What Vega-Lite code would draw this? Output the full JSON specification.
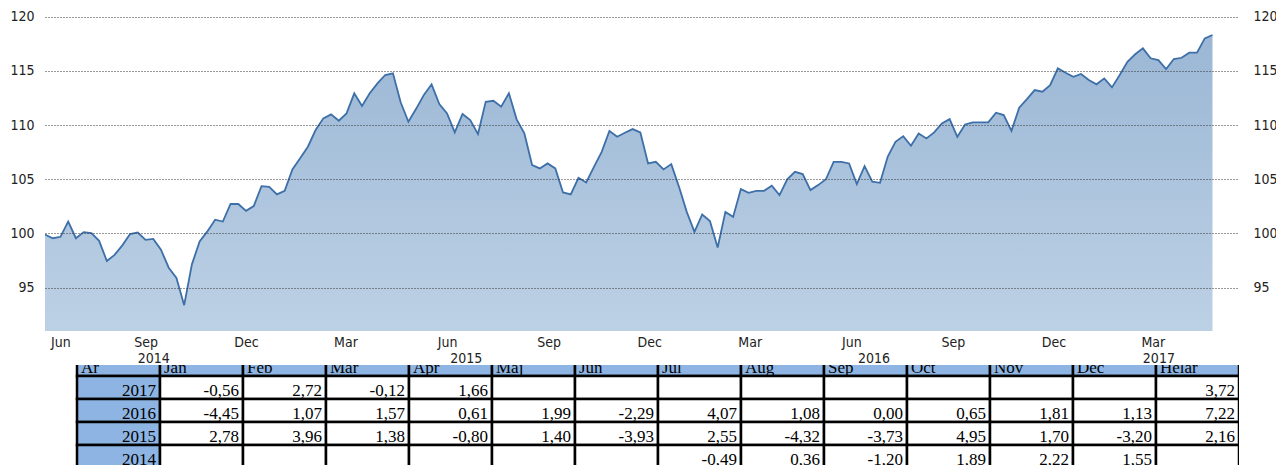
{
  "$schema": "https://vega.github.io/schema/vega-lite/v6.json",
  "padding": {"left": 9, "top": 0, "right": 0, "bottom": 0},
  "spacing": 0,
  "background": "white",
  "config": {
    "view": {"stroke": null},
    "locale": {"number": {"decimal": ",", "thousands": "\u00a0", "grouping": [3], "currency": ["", ""], "minus": "-"}},
    "axis": {"labelFont": "DejaVu Sans Condensed", "labelFontSize": 14, "labelColor": "#222", "domain": false, "ticks": false, "title": null}
  },
  "datasets": {
    "idx": [
      {"d": "2014-06-02", "v": 99.9}, {"d": "2014-06-09", "v": 99.56}, {"d": "2014-06-16", "v": 99.69}, {"d": "2014-06-23", "v": 101.1},
      {"d": "2014-06-30", "v": 99.56}, {"d": "2014-07-07", "v": 100.12}, {"d": "2014-07-14", "v": 100.03}, {"d": "2014-07-21", "v": 99.32},
      {"d": "2014-07-28", "v": 97.46}, {"d": "2014-08-04", "v": 98.02}, {"d": "2014-08-11", "v": 98.9}, {"d": "2014-08-18", "v": 99.94},
      {"d": "2014-08-25", "v": 100.09}, {"d": "2014-09-01", "v": 99.41}, {"d": "2014-09-08", "v": 99.5}, {"d": "2014-09-15", "v": 98.5},
      {"d": "2014-09-22", "v": 96.84}, {"d": "2014-09-29", "v": 95.9}, {"d": "2014-10-06", "v": 93.38}, {"d": "2014-10-13", "v": 97.15},
      {"d": "2014-10-20", "v": 99.26}, {"d": "2014-10-27", "v": 100.19}, {"d": "2014-11-03", "v": 101.27}, {"d": "2014-11-10", "v": 101.1},
      {"d": "2014-11-17", "v": 102.72}, {"d": "2014-11-24", "v": 102.72}, {"d": "2014-12-01", "v": 102.09}, {"d": "2014-12-08", "v": 102.52},
      {"d": "2014-12-15", "v": 104.37}, {"d": "2014-12-22", "v": 104.3}, {"d": "2014-12-29", "v": 103.6}, {"d": "2015-01-05", "v": 103.93},
      {"d": "2015-01-12", "v": 105.9}, {"d": "2015-01-19", "v": 106.93}, {"d": "2015-01-26", "v": 108.0}, {"d": "2015-02-02", "v": 109.54},
      {"d": "2015-02-09", "v": 110.62}, {"d": "2015-02-16", "v": 110.99}, {"d": "2015-02-23", "v": 110.4}, {"d": "2015-03-02", "v": 111.08},
      {"d": "2015-03-09", "v": 112.93}, {"d": "2015-03-16", "v": 111.76}, {"d": "2015-03-23", "v": 112.93}, {"d": "2015-03-30", "v": 113.85},
      {"d": "2015-04-06", "v": 114.62}, {"d": "2015-04-13", "v": 114.77}, {"d": "2015-04-20", "v": 112.1}, {"d": "2015-04-27", "v": 110.3},
      {"d": "2015-05-04", "v": 111.5}, {"d": "2015-05-11", "v": 112.77}, {"d": "2015-05-18", "v": 113.76}, {"d": "2015-05-25", "v": 111.94},
      {"d": "2015-06-01", "v": 111.08}, {"d": "2015-06-08", "v": 109.32}, {"d": "2015-06-15", "v": 111.02}, {"d": "2015-06-22", "v": 110.46},
      {"d": "2015-06-29", "v": 109.17}, {"d": "2015-07-06", "v": 112.15}, {"d": "2015-07-13", "v": 112.24}, {"d": "2015-07-20", "v": 111.69},
      {"d": "2015-07-27", "v": 112.93}, {"d": "2015-08-03", "v": 110.53}, {"d": "2015-08-10", "v": 109.23}, {"d": "2015-08-17", "v": 106.31},
      {"d": "2015-08-24", "v": 106.0}, {"d": "2015-08-31", "v": 106.46}, {"d": "2015-09-07", "v": 106.0}, {"d": "2015-09-14", "v": 103.78},
      {"d": "2015-09-21", "v": 103.6}, {"d": "2015-09-28", "v": 105.14}, {"d": "2015-10-05", "v": 104.71}, {"d": "2015-10-12", "v": 106.15},
      {"d": "2015-10-19", "v": 107.53}, {"d": "2015-10-26", "v": 109.45}, {"d": "2015-11-02", "v": 108.92}, {"d": "2015-11-09", "v": 109.29},
      {"d": "2015-11-16", "v": 109.63}, {"d": "2015-11-23", "v": 109.32}, {"d": "2015-11-30", "v": 106.46}, {"d": "2015-12-07", "v": 106.61},
      {"d": "2015-12-14", "v": 105.91}, {"d": "2015-12-21", "v": 106.4}, {"d": "2015-12-28", "v": 104.3}, {"d": "2016-01-04", "v": 101.99},
      {"d": "2016-01-11", "v": 100.15}, {"d": "2016-01-18", "v": 101.75}, {"d": "2016-01-25", "v": 101.14}, {"d": "2016-02-01", "v": 98.71},
      {"d": "2016-02-08", "v": 101.99}, {"d": "2016-02-15", "v": 101.53}, {"d": "2016-02-22", "v": 104.09}, {"d": "2016-02-29", "v": 103.75},
      {"d": "2016-03-07", "v": 103.93}, {"d": "2016-03-14", "v": 103.93}, {"d": "2016-03-21", "v": 104.4}, {"d": "2016-03-28", "v": 103.54},
      {"d": "2016-04-04", "v": 104.99}, {"d": "2016-04-11", "v": 105.69}, {"d": "2016-04-18", "v": 105.48}, {"d": "2016-04-25", "v": 104.0},
      {"d": "2016-05-02", "v": 104.46}, {"d": "2016-05-09", "v": 105.0}, {"d": "2016-05-16", "v": 106.61}, {"d": "2016-05-23", "v": 106.61},
      {"d": "2016-05-30", "v": 106.46}, {"d": "2016-06-06", "v": 104.55}, {"d": "2016-06-13", "v": 106.21}, {"d": "2016-06-20", "v": 104.77},
      {"d": "2016-06-27", "v": 104.67}, {"d": "2016-07-04", "v": 107.1}, {"d": "2016-07-11", "v": 108.46}, {"d": "2016-07-18", "v": 108.98},
      {"d": "2016-07-25", "v": 108.09}, {"d": "2016-08-01", "v": 109.23}, {"d": "2016-08-08", "v": 108.77}, {"d": "2016-08-15", "v": 109.32},
      {"d": "2016-08-22", "v": 110.15}, {"d": "2016-08-29", "v": 110.55}, {"d": "2016-09-05", "v": 108.92}, {"d": "2016-09-12", "v": 110.06},
      {"d": "2016-09-19", "v": 110.25}, {"d": "2016-09-26", "v": 110.25}, {"d": "2016-10-03", "v": 110.25}, {"d": "2016-10-10", "v": 111.14},
      {"d": "2016-10-17", "v": 110.92}, {"d": "2016-10-24", "v": 109.47}, {"d": "2016-10-31", "v": 111.6}, {"d": "2016-11-07", "v": 112.4},
      {"d": "2016-11-14", "v": 113.23}, {"d": "2016-11-21", "v": 113.08}, {"d": "2016-11-28", "v": 113.69}, {"d": "2016-12-05", "v": 115.24},
      {"d": "2016-12-12", "v": 114.83}, {"d": "2016-12-19", "v": 114.46}, {"d": "2016-12-26", "v": 114.71}, {"d": "2017-01-02", "v": 114.16},
      {"d": "2017-01-09", "v": 113.76}, {"d": "2017-01-16", "v": 114.31}, {"d": "2017-01-23", "v": 113.48}, {"d": "2017-01-30", "v": 114.62},
      {"d": "2017-02-06", "v": 115.84}, {"d": "2017-02-13", "v": 116.53}, {"d": "2017-02-20", "v": 117.08}, {"d": "2017-02-27", "v": 116.16},
      {"d": "2017-03-06", "v": 116.0}, {"d": "2017-03-13", "v": 115.17}, {"d": "2017-03-20", "v": 116.09}, {"d": "2017-03-27", "v": 116.21},
      {"d": "2017-04-03", "v": 116.68}, {"d": "2017-04-10", "v": 116.68}, {"d": "2017-04-17", "v": 118.0}, {"d": "2017-04-24", "v": 118.31}
    ],
    "tbl": [
      {"r": "År", "c": "År"}, {"r": "År", "c": "Jan"}, {"r": "År", "c": "Feb"}, {"r": "År", "c": "Mar"}, {"r": "År", "c": "Apr"}, {"r": "År", "c": "Maj"}, {"r": "År", "c": "Jun"},
      {"r": "År", "c": "Jul"}, {"r": "År", "c": "Aug"}, {"r": "År", "c": "Sep"}, {"r": "År", "c": "Oct"}, {"r": "År", "c": "Nov"}, {"r": "År", "c": "Dec"}, {"r": "År", "c": "Helår"},
      {"r": "2017", "c": "År"}, {"r": "2017", "c": "Jan", "v": -0.56}, {"r": "2017", "c": "Feb", "v": 2.72}, {"r": "2017", "c": "Mar", "v": -0.12}, {"r": "2017", "c": "Apr", "v": 1.66},
      {"r": "2017", "c": "Maj"}, {"r": "2017", "c": "Jun"}, {"r": "2017", "c": "Jul"}, {"r": "2017", "c": "Aug"}, {"r": "2017", "c": "Sep"}, {"r": "2017", "c": "Oct"},
      {"r": "2017", "c": "Nov"}, {"r": "2017", "c": "Dec"}, {"r": "2017", "c": "Helår", "v": 3.72},
      {"r": "2016", "c": "År"}, {"r": "2016", "c": "Jan", "v": -4.45}, {"r": "2016", "c": "Feb", "v": 1.07}, {"r": "2016", "c": "Mar", "v": 1.57}, {"r": "2016", "c": "Apr", "v": 0.61},
      {"r": "2016", "c": "Maj", "v": 1.99}, {"r": "2016", "c": "Jun", "v": -2.29}, {"r": "2016", "c": "Jul", "v": 4.07}, {"r": "2016", "c": "Aug", "v": 1.08}, {"r": "2016", "c": "Sep", "v": 0.0},
      {"r": "2016", "c": "Oct", "v": 0.65}, {"r": "2016", "c": "Nov", "v": 1.81}, {"r": "2016", "c": "Dec", "v": 1.13}, {"r": "2016", "c": "Helår", "v": 7.22},
      {"r": "2015", "c": "År"}, {"r": "2015", "c": "Jan", "v": 2.78}, {"r": "2015", "c": "Feb", "v": 3.96}, {"r": "2015", "c": "Mar", "v": 1.38}, {"r": "2015", "c": "Apr", "v": -0.8},
      {"r": "2015", "c": "Maj", "v": 1.4}, {"r": "2015", "c": "Jun", "v": -3.93}, {"r": "2015", "c": "Jul", "v": 2.55}, {"r": "2015", "c": "Aug", "v": -4.32}, {"r": "2015", "c": "Sep", "v": -3.73},
      {"r": "2015", "c": "Oct", "v": 4.95}, {"r": "2015", "c": "Nov", "v": 1.7}, {"r": "2015", "c": "Dec", "v": -3.2}, {"r": "2015", "c": "Helår", "v": 2.16},
      {"r": "2014", "c": "År"}, {"r": "2014", "c": "Jan"}, {"r": "2014", "c": "Feb"}, {"r": "2014", "c": "Mar"}, {"r": "2014", "c": "Apr"}, {"r": "2014", "c": "Maj"}, {"r": "2014", "c": "Jun"},
      {"r": "2014", "c": "Jul", "v": -0.49}, {"r": "2014", "c": "Aug", "v": 0.36}, {"r": "2014", "c": "Sep", "v": -1.2}, {"r": "2014", "c": "Oct", "v": 1.89},
      {"r": "2014", "c": "Nov", "v": 2.22}, {"r": "2014", "c": "Dec", "v": 1.55}, {"r": "2014", "c": "Helår"}
    ]
  },
  "vconcat": [
    {
      "width": 1194,
      "height": 331,
      "data": {"name": "idx"},
      "layer": [
        {
          "mark": {"type": "area", "clip": true, "fill": {"gradient": "linear", "x1": 0, "y1": 0, "x2": 0, "y2": 1, "stops": [{"offset": 0, "color": "#9BB7D5"}, {"offset": 1, "color": "#BDD1E5"}]}},
          "encoding": {
            "x": {"field": "d", "type": "temporal",
              "scale": {"type": "utc", "domain": [{"year": 2014, "month": 6, "date": 2, "utc": true}, {"year": 2017, "month": 5, "date": 18, "utc": true}]},
              "axis": {"orient": "bottom", "labelExpr": "utcFormat(datum.value, '%b')", "grid": false, "labelPadding": 4,
                "values": [{"year": 2014, "month": 6, "date": 16, "utc": true}, {"year": 2014, "month": 9, "date": 1, "utc": true}, {"year": 2014, "month": 12, "date": 1, "utc": true},
                  {"year": 2015, "month": 3, "date": 1, "utc": true}, {"year": 2015, "month": 6, "date": 1, "utc": true}, {"year": 2015, "month": 9, "date": 1, "utc": true}, {"year": 2015, "month": 12, "date": 1, "utc": true},
                  {"year": 2016, "month": 3, "date": 1, "utc": true}, {"year": 2016, "month": 6, "date": 1, "utc": true}, {"year": 2016, "month": 9, "date": 1, "utc": true}, {"year": 2016, "month": 12, "date": 1, "utc": true},
                  {"year": 2017, "month": 3, "date": 1, "utc": true}]}},
            "y": {"field": "v", "type": "quantitative", "scale": {"domain": [91, 121.54], "zero": false, "nice": false},
              "axis": {"orient": "left", "values": [95, 100, 105, 110, 115, 120], "grid": true, "gridDash": [1, 2], "gridColor": "#333", "gridWidth": 1, "labelPadding": 11, "zindex": 1}},
            "y2": {"datum": 91}
          }
        },
        {
          "mark": {"type": "line", "stroke": "#3D6FA8", "strokeWidth": 1.8, "clip": true},
          "encoding": {
            "x": {"field": "d", "type": "temporal",
              "axis": {"orient": "bottom", "labelExpr": "utcFormat(datum.value, '%Y')", "grid": false, "labelPadding": 20,
                "values": [{"year": 2014, "month": 9, "date": 8, "utc": true}, {"year": 2015, "month": 6, "date": 18, "utc": true}, {"year": 2016, "month": 6, "date": 21, "utc": true}, {"year": 2017, "month": 3, "date": 6, "utc": true}]}},
            "y": {"field": "v", "type": "quantitative",
              "axis": {"orient": "right", "values": [95, 100, 105, 110, 115, 120], "grid": false, "labelPadding": 14}}
          }
        }
      ],
      "resolve": {"axis": {"x": "independent", "y": "independent"}}
    },
    {
      "width": 1194,
      "height": 100,
      "data": {"name": "tbl"},
      "layer": [
        {
          "mark": {"type": "rect", "stroke": "#000", "strokeWidth": 2.5, "clip": true},
          "encoding": {
            "x": {"field": "c", "type": "ordinal", "axis": null,
              "scale": {"domain": ["År", "Jan", "Feb", "Mar", "Apr", "Maj", "Jun", "Jul", "Aug", "Sep", "Oct", "Nov", "Dec", "Helår"], "range": [32, 1194], "paddingInner": 0, "paddingOuter": 0}},
            "y": {"field": "r", "type": "ordinal", "axis": null,
              "scale": {"domain": ["År", "2017", "2016", "2015", "2014"], "range": [-12, 103], "paddingInner": 0, "paddingOuter": 0}},
            "fill": {"condition": {"test": "datum.r === 'År' || datum.c === 'År'", "value": "#8DB4E2"}, "value": "#FFFFFF"}
          }
        },
        {
          "transform": [{"filter": "datum.r === 'År'"}],
          "mark": {"type": "text", "align": "left", "baseline": "alphabetic", "dx": 4, "dy": -3, "font": "Liberation Serif", "fontSize": 17, "color": "#000", "clip": true},
          "encoding": {
            "x": {"field": "c", "type": "ordinal", "bandPosition": 0, "axis": null},
            "y": {"field": "r", "type": "ordinal", "bandPosition": 1, "axis": null},
            "text": {"field": "c"}
          }
        },
        {
          "transform": [{"filter": "datum.c === 'År' && datum.r !== 'År'"}],
          "mark": {"type": "text", "align": "right", "baseline": "alphabetic", "dx": -4, "dy": -3, "font": "Liberation Serif", "fontSize": 17, "color": "#000", "clip": true},
          "encoding": {
            "x": {"field": "c", "type": "ordinal", "bandPosition": 1, "axis": null},
            "y": {"field": "r", "type": "ordinal", "bandPosition": 1, "axis": null},
            "text": {"field": "r"}
          }
        },
        {
          "transform": [{"filter": "isValid(datum.v)"}],
          "mark": {"type": "text", "align": "right", "baseline": "alphabetic", "dx": -4, "dy": -3, "font": "Liberation Serif", "fontSize": 17, "color": "#000", "clip": true},
          "encoding": {
            "x": {"field": "c", "type": "ordinal", "bandPosition": 1, "axis": null},
            "y": {"field": "r", "type": "ordinal", "bandPosition": 1, "axis": null},
            "text": {"field": "v", "type": "quantitative", "format": ".2f"}
          }
        }
      ]
    }
  ]
}
